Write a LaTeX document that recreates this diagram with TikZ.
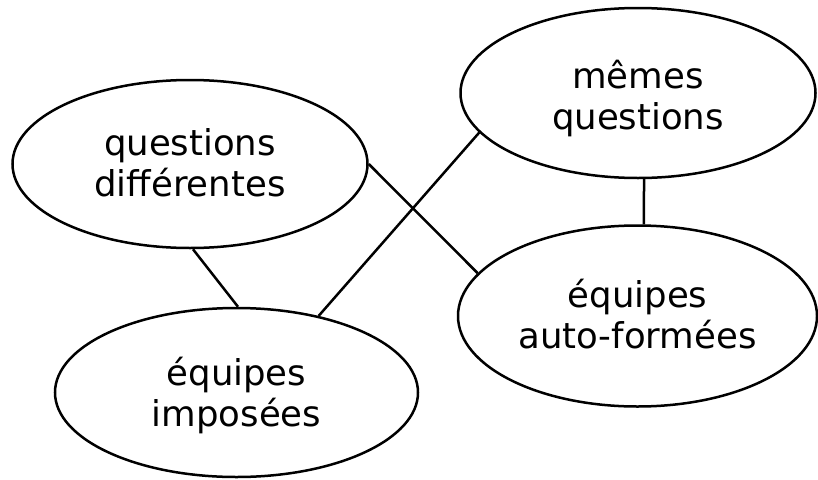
\documentclass[tikz,border=0pt]{standalone}
\usepackage{fontspec}
\setmainfont{DejaVu Sans}
\usetikzlibrary{shapes.geometric}
\newcommand\twolines[3]{\raisebox{#1}[0pt][0pt]{\makebox[0pt]{\parbox[t]{320pt}{\centering\fontsize{35.5}{41}\selectfont #2\\#3}}}}
\begin{document}
\begin{tikzpicture}[x=1pt,y=-1pt,
  bubble/.style={ellipse,draw,line width=2.5pt,inner sep=0pt,minimum width=355pt,minimum height=168pt},
  link/.style={line width=2.5pt}]
\useasboundingbox (0,0) rectangle (818,479);
\node[bubble] (qd) at (190,164) {\twolines{9pt}{questions}{différentes}};
\node[bubble,minimum height=170pt] (mq) at (638,93) {\twolines{5pt}{mêmes}{questions}};
\node[bubble,minimum width=359pt,minimum height=181pt] (af) at (637.5,316) {\twolines{9pt}{équipes}{auto-formées}};
\node[bubble,minimum width=363pt,minimum height=169pt] (ip) at (236.5,392.5) {\twolines{7pt}{équipes}{imposées}};
\draw[link] (qd.-88.7) -- (ip.89.7);
\draw[link] (ip.43.5) -- (mq.194.2);
\draw[link] (qd.-0.3) -- (af.165.7);
\draw[link] (mq.-86.6) -- (af.86.5);
\end{tikzpicture}
\end{document}
